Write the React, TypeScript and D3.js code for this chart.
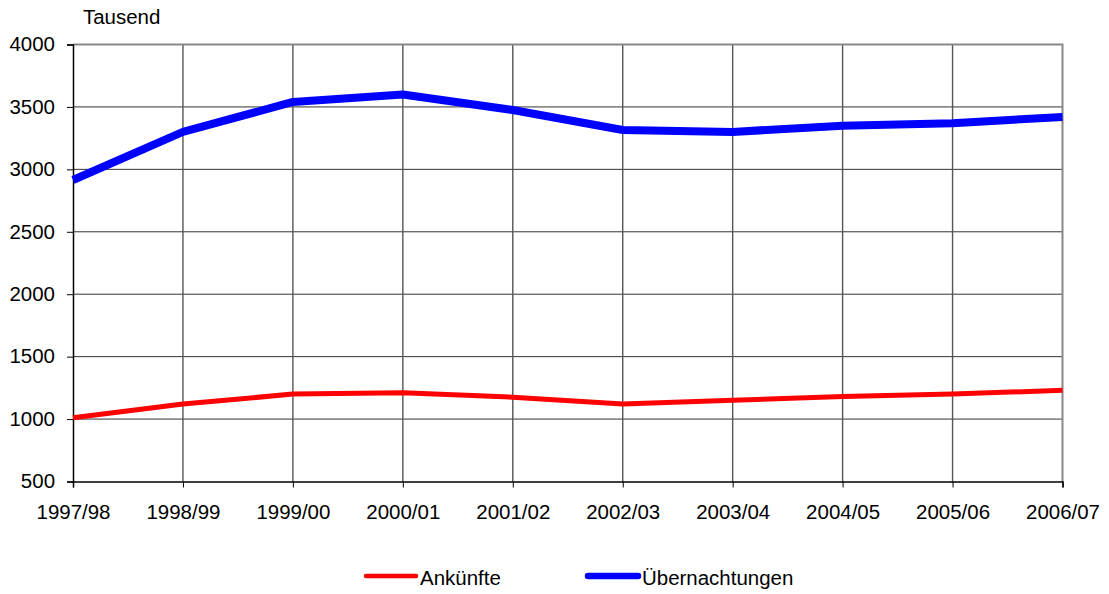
import { useEffect, useRef } from 'react';
import * as d3 from 'd3';

const years = ['1997/98', '1998/99', '1999/00', '2000/01', '2001/02', '2002/03', '2003/04', '2004/05', '2005/06', '2006/07'];
const ankuenfte = [1010, 1120, 1200, 1210, 1175, 1120, 1150, 1180, 1200, 1230];
const uebernachtungen = [2915, 3300, 3540, 3600, 3475, 3315, 3300, 3350, 3370, 3420];
const yTicks = [500, 1000, 1500, 2000, 2500, 3000, 3500, 4000];

// the original text is drawn slightly stretched
const SX = 1.05;
const FS = 19.5;

export default function App() {
  const svgRef = useRef<SVGSVGElement>(null);
  const width = 1109;
  const height = 594;

  useEffect(() => {
    if (!svgRef.current) return;
    const svg = d3.select(svgRef.current);
    svg.selectAll('*').remove();

    const left = 73, right = 1062.5, top = 44.5, bottom = 481.5;
    const font = 'Liberation Sans, Arial, sans-serif';

    const x = d3.scalePoint<string>().domain(years).range([left, right]);
    const y = d3.scaleLinear().domain([500, 4000]).range([bottom, top]);

    const label = (g: d3.Selection<SVGGElement, unknown, null, undefined>, tx: number, ty: number, s: string) =>
      g.append('text')
        .attr('transform', `translate(${tx},${ty}) scale(${SX},1)`)
        .attr('font-family', font).attr('font-size', FS).attr('fill', '#000')
        .text(s);

    const root = svg.append('g');

    // horizontal grid
    root.append('g')
      .selectAll('line')
      .data(yTicks.slice(1, -1))
      .enter().append('line')
      .attr('x1', left).attr('x2', right)
      .attr('y1', d => y(d)).attr('y2', d => y(d))
      .attr('stroke', '#333').attr('stroke-width', 1);

    // vertical grid
    root.append('g')
      .selectAll('line')
      .data(years.slice(1, -1))
      .enter().append('line')
      .attr('x1', d => x(d)!).attr('x2', d => x(d)!)
      .attr('y1', top).attr('y2', bottom)
      .attr('stroke', '#555').attr('stroke-width', 1.4);

    // frame top/right
    root.append('path')
      .attr('d', `M${left},${top}H${right}V${bottom}`)
      .attr('fill', 'none').attr('stroke', '#888').attr('stroke-width', 2);

    // y axis
    const yAxis = root.append('g')
      .attr('transform', `translate(${left},0)`)
      .call(d3.axisLeft(y).tickValues(yTicks).tickSize(6).tickPadding(12).tickFormat(d3.format('d')));
    yAxis.select('.domain').attr('stroke', '#000').attr('stroke-width', 1.5);
    yAxis.selectAll('.tick line').attr('stroke', '#000');
    yAxis.selectAll<SVGTextElement, number>('text')
      .attr('x', -18 / SX)
      .attr('transform', `scale(${SX},1)`)
      .attr('font-family', font).attr('font-size', FS).attr('fill', '#000');

    // x axis
    const xAxis = root.append('g')
      .attr('transform', `translate(0,${bottom})`)
      .call(d3.axisBottom(x).tickSize(6).tickPadding(18));
    xAxis.select('.domain').attr('stroke', '#000').attr('stroke-width', 1.5);
    xAxis.selectAll('.tick line').attr('stroke', '#000');
    xAxis.selectAll('text')
      .attr('transform', `scale(${SX},1)`)
      .attr('font-family', font).attr('font-size', FS).attr('fill', '#000');

    label(root, 83, 24, 'Tausend');

    const line = d3.line<number>()
      .x((_, i) => x(years[i])!)
      .y(d => y(d));

    root.append('path')
      .datum(ankuenfte)
      .attr('fill', 'none').attr('stroke', '#ff0000').attr('stroke-width', 5)
      .attr('stroke-linejoin', 'round')
      .attr('d', line);

    root.append('path')
      .datum(uebernachtungen)
      .attr('fill', 'none').attr('stroke', '#0000ff').attr('stroke-width', 8)
      .attr('stroke-linejoin', 'round')
      .attr('d', line);

    // legend
    const legend = [
      { label: 'Ankünfte', color: '#ff0000', w: 4.5, x0: 366 },
      { label: 'Übernachtungen', color: '#0000ff', w: 6.5, x0: 588 },
    ];
    const lg = root.append('g');
    legend.forEach(l => {
      lg.append('line')
        .attr('x1', l.x0).attr('x2', l.x0 + 50)
        .attr('y1', 576).attr('y2', 576)
        .attr('stroke', l.color).attr('stroke-width', l.w)
        .attr('stroke-linecap', 'round');
      label(lg, l.x0 + 54, 585, l.label);
    });
  }, []);

  return (
    <svg
      ref={svgRef}
      width={width}
      height={height}
      style={{ position: 'absolute', left: 0, top: 0, background: '#fff' }}
    />
  );
}
